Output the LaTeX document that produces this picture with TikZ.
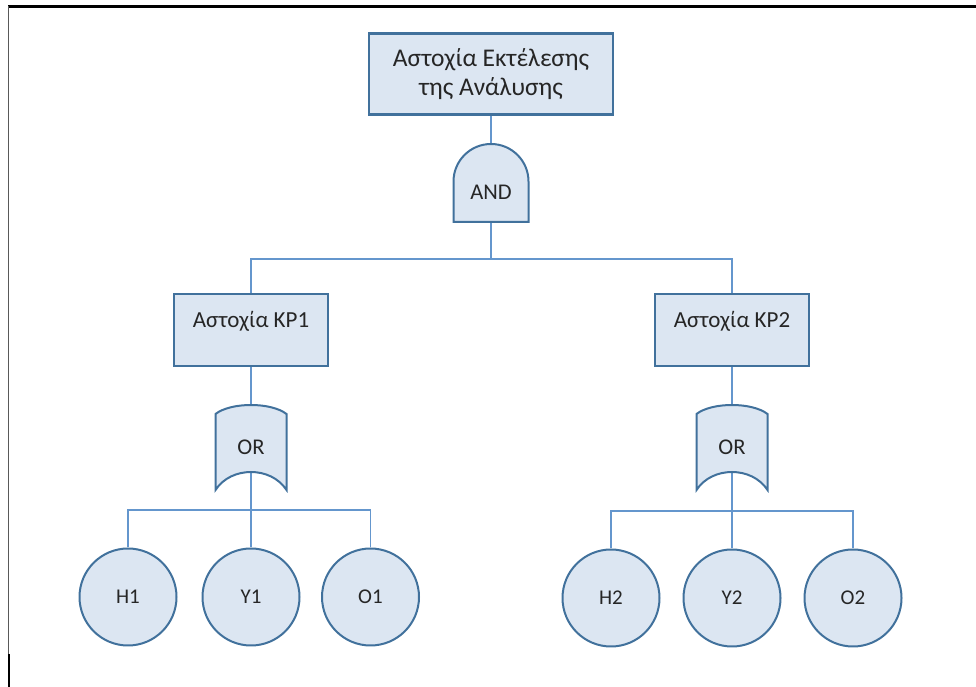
\documentclass[tikz,border=0pt]{standalone}
\usepackage{fontspec}
\setmainfont{Carlito}
\usetikzlibrary{calc}

\definecolor{boxfill}{RGB}{220,230,242}
\definecolor{boxline}{RGB}{65,113,156}
\definecolor{wirecol}{RGB}{100,150,205}
\definecolor{txt}{RGB}{38,38,38}

\pgfdeclarelayer{wires}
\pgfdeclarelayer{gates}
\pgfsetlayers{wires,gates,main}

\tikzset{
  event/.style={draw=boxline, fill=boxfill, line width=2.2pt, text=txt,
    font=\fontsize{23}{26}\selectfont},
  kpbox/.style={minimum width=154pt, minimum height=72pt,
    text height=16pt, text depth=21pt},
  basic/.style={circle, draw=boxline, fill=boxfill, line width=2pt,
    minimum size=97pt, inner sep=0pt, text=txt, font=\fontsize{21}{24}\selectfont},
  gatelbl/.style={text=txt, inner sep=0pt, font=\fontsize{22.5}{25}\selectfont},
  gateshape/.style={draw=boxline, fill=boxfill, line width=2pt},
  wire/.style={draw=wirecol, line width=1.2pt},
}

\begin{document}
\begin{tikzpicture}[x=1pt,y=1pt]
    \useasboundingbox (0,0) rectangle (976,687);

    % Rahmen
    \draw[line width=2.5pt] (8,680.5) -- (976,680.5);
    \draw[line width=1.5pt, black!65] (8.5,680.5) -- (8.5,33);
    \draw[line width=2pt] (8.5,33) -- (8.5,0);

    % Ereignisse
    \node[event, minimum width=244pt, minimum height=81pt, align=center,
      font=\fontsize{25.5}{29}\selectfont] (top) at (491,613) {Αστοχία Εκτέλεσης\\της Ανάλυσης};
    \node[event, kpbox] (kp1) at (251,357) {Αστοχία ΚΡ1};
    \node[event, kpbox] (kp2) at (732,357) {Αστοχία ΚΡ2};

    % Gatter
    \node[gatelbl] (and) at (491,495) {AND};
    \node[gatelbl] (or1) at (251,240) {OR};
    \node[gatelbl] (or2) at (732,240) {OR};

    % Basisereignisse
    \node[basic] (h1) at (128,90) {H1};
    \node[basic] (y1) at (251,90) {Y1};
    \node[basic] (o1) at (370.5,90) {O1};
    \node[basic] (h2) at (611,89) {H2};
    \node[basic] (y2) at (732,89) {Y2};
    \node[basic] (o2) at (853,89) {O2};

    % Gatterformen
    \begin{pgfonlayer}{gates}
    \path[gateshape] ($(and)+(-37.5,-30)$) -- ($(and)+(37.5,-30)$) -- ($(and)+(37.5,10.5)$)
        arc[start angle=0, end angle=180, radius=37.5pt] -- cycle;
    \foreach \g in {or1,or2}
      \path[gateshape] ($(\g)+(-35.5,-43)$) -- ($(\g)+(-35.5,33)$)
        .. controls ($(\g)+(-20,45)$) and ($(\g)+(20,45)$) .. ($(\g)+(35.5,33)$)
        -- ($(\g)+(35.5,-43)$)
        .. controls ($(\g)+(20,-19)$) and ($(\g)+(-20,-19)$) .. ($(\g)+(-35.5,-43)$) -- cycle;
    \end{pgfonlayer}

    % Verbindungen
    \begin{pgfonlayer}{wires}
    \coordinate (andbar) at (491,428);
    \coordinate (orbar1) at (251,177);
    \coordinate (orbar2) at (732,176);
    \draw[wire] (top.south) -- (and);
    \draw[wire] (and) -- (andbar);
    \draw[wire] (kp1.north) |- (andbar) -| (kp2.north);
    \draw[wire] (kp1.south) -- (or1);
    \draw[wire] (kp2.south) -- (or2);
    \draw[wire] (or1) -- (orbar1);
    \draw[wire] (or2) -- (orbar2);
    \draw[wire] (h1.north) |- (orbar1) -| (o1.north);
    \draw[wire] (orbar1) -- (y1.north);
    \draw[wire] (h2.north) |- (orbar2) -| (o2.north);
    \draw[wire] (orbar2) -- (y2.north);
    \end{pgfonlayer}
\end{tikzpicture}
\end{document}
